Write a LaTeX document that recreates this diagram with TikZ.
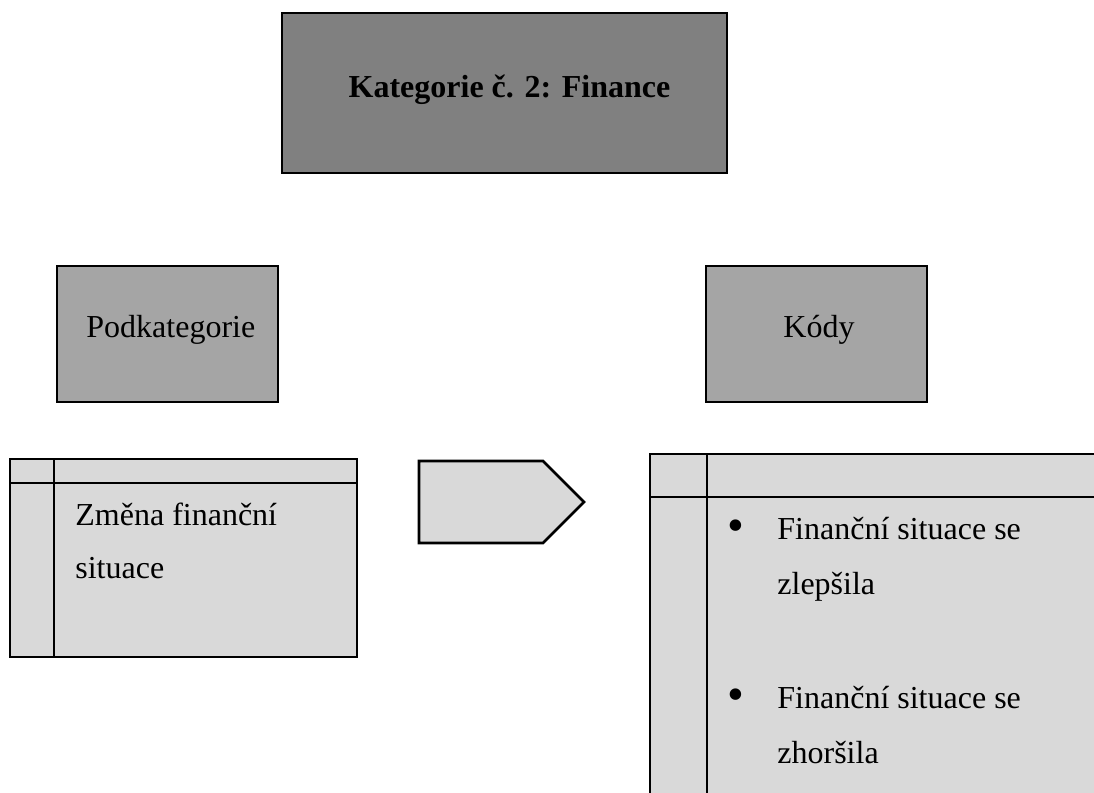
\documentclass[tikz,border=0pt]{standalone}
\usepackage{fontspec}
\setmainfont{Liberation Serif}
\usepackage{tikz}
\usetikzlibrary{calc}

\definecolor{katgray}{HTML}{808080}
\definecolor{podgray}{HTML}{A5A5A5}
\definecolor{tabgray}{HTML}{D9D9D9}

\tikzset{
	boxline/.style={draw=black, line width=1.4pt},
	txt/.style={inner sep=0pt, font=\fontsize{16}{27.5}\selectfont},
}

\begin{document}
\begin{tikzpicture}[x=0.5pt, y=-0.5pt]
    		\useasboundingbox (0,0) rectangle (1094,793);
    		\clip (0,0) rectangle (1094,793);
    		% headings
    		\draw [boxline, fill=katgray] (282,13) rectangle (727,173);
    		\node [txt, anchor=base, font=\fontsize{16}{20}\selectfont\bfseries] (kat) at (509.5,97) {Kategorie č. 2: Finance};
    		\draw [boxline, fill=podgray] (57,266) rectangle (278,402);
    		\node [txt, anchor=base west] (pod) at (86,337) {Podkategorie};
    		\draw [boxline, fill=podgray] (706,266) rectangle (927,402);
    		\node [txt, anchor=base west] (kody) at (783,337) {Kódy};
    		% left table
    		\draw [boxline, fill=tabgray] (10,459) rectangle (357,657);
    		\draw [boxline] (54,459) -- (54,657);
    		\draw [boxline] (10,483) -- (357,483);
    		\node [txt, anchor=base west] (zmena) at (75,525) {Změna finanční};
    		\node [txt, anchor=base west] (situace) at (75,578) {situace};
    		% arrow
    		\draw [boxline, fill=tabgray] (419,461) -- (543,461) -- (584,502) -- (543,543) -- (419,543) -- cycle;
    		% right table
    		\draw [boxline, fill=tabgray] (650,454) rectangle (1110,810);
    		\draw [boxline] (707,454) -- (707,810);
    		\draw [boxline] (650,497) -- (1110,497);
    		\foreach \y/\txt in {539/zlepšila, 708/zhoršila} {
    			\node [txt, anchor=center, font=\fontsize{24}{24}\selectfont] (bul\y) at (736,\y-8) {\textbullet};
    			\node [txt, anchor=base west] (fin\y) at (777,\y) {Finanční situace se};
    			\node [txt, anchor=base west] (end\y) at ($(fin\y.base west)+(0,55)$) {\txt};
    		}
    	\end{tikzpicture}
\end{document}
